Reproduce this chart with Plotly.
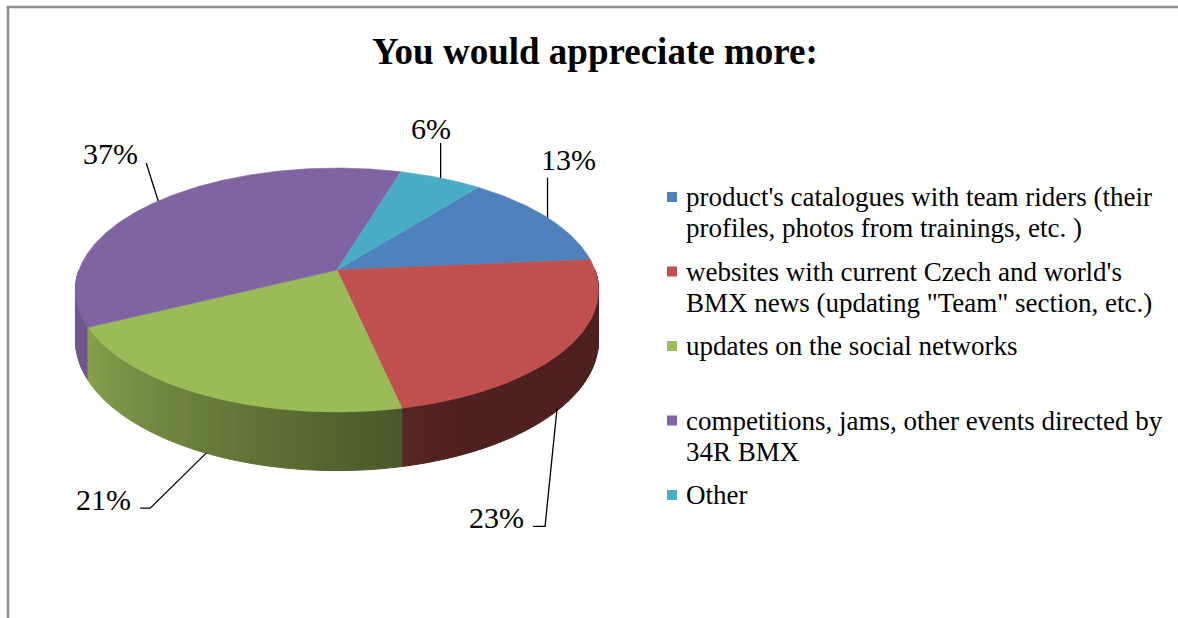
import numpy as np
import plotly.graph_objects as go

# ---- data -------------------------------------------------------------
title = "You would appreciate more:"
categories = [
    ["product's catalogues with team riders (their", "profiles, photos from trainings, etc. )"],
    ["websites with current Czech and world's", "BMX news (updating \"Team\" section, etc.)"],
    ["updates on the social networks"],
    ["competitions, jams, other events directed by", "34R BMX"],
    ["Other"],
]
shares = [13, 23, 21, 37, 6]
colors = ["#4F81BD", "#C0504D", "#9BBB59", "#8064A2", "#4BACC6"]

# ---- canvas / pie geometry (pixel space) ------------------------------
W, H = 1178, 618
CX, CY = 337, 270          # pie centre on the top face
RX, RY = 258, 118.7        # projected radii
PERSP = 0.164              # perspective strength
DEPTH = 49                 # thickness of the pie
START = 38.2               # first slice starts here (deg, clockwise from 12 o'clock)
FONT = "Liberation Serif, Times New Roman, serif"


def proj(theta_deg, h=0.0):
    t = np.radians(theta_deg)
    w = 1 + PERSP * np.cos(t)
    return CX + RX * np.sin(t) / w, CY + (-RY * np.cos(t) + DEPTH * h) / w


def shade(hex_color, f):
    h = hex_color.lstrip("#")
    r, g, b = (int(h[i:i + 2], 16) for i in (0, 2, 4))
    return "rgb(%d,%d,%d)" % (r * f, g * f, b * f)


def side_factor(theta):
    return float(np.clip(0.47 + 0.40 * (theta - 168) / 75, 0.41, 0.87))


total = float(sum(shares))
bounds = START + np.concatenate([[0], np.cumsum(shares)]) / total * 360


def slice_of(theta):
    t = (theta - START) % 360 + START
    for i in range(len(shares)):
        if bounds[i] <= t < bounds[i + 1]:
            return i
    return len(shares) - 1


fig = go.Figure()

# ---- outer wall: thin strips, drawn back to front ---------------------
edges = set(np.round(np.arange(90, 270.01, 1.5), 4))
for b in bounds:
    bb = b % 360
    if 90 < bb < 270:
        edges.add(round(bb, 4))
edges = sorted(edges)
strips = []
for a0, a1 in zip(edges[:-1], edges[1:]):
    mid = 0.5 * (a0 + a1)
    strips.append((np.cos(np.radians(mid)), a0, a1, mid))
strips.sort(key=lambda s: -s[0])
for _, a0, a1, mid in strips:
    idx = slice_of(mid)
    ang = np.linspace(a0, a1, 4)
    xt, yt = proj(ang, 0)
    xb, yb = proj(ang[::-1], 1)
    col = shade(colors[idx], side_factor(mid))
    fig.add_trace(go.Scatter(
        x=np.concatenate([xt, xb, xt[:1]]), y=np.concatenate([yt, yb, yt[:1]]),
        mode="lines", fill="toself", fillcolor=col,
        line=dict(color=col, width=1), hoverinfo="skip", showlegend=False))

# ---- top face slices --------------------------------------------------
for i in range(len(shares)):
    ang = np.linspace(bounds[i], bounds[i + 1], max(int((bounds[i + 1] - bounds[i]) * 2), 4))
    xs, ys = proj(ang, 0)
    fig.add_trace(go.Scatter(
        x=np.concatenate([[CX], xs, [CX]]), y=np.concatenate([[CY], ys, [CY]]),
        mode="lines", fill="toself", fillcolor=colors[i],
        line=dict(color=colors[i], width=0.6), hoverinfo="skip", showlegend=False))

# ---- data labels with leader lines ------------------------------------
# leader polyline offsets from the slice anchor, then label offset from its end
leaders = [
    ([(0, 0), (0, -40)], (21, -18), "center"),
    ([(-10, 6), (-22, 124), (-34, 124)], (-7, -9), "right"),
    ([(0, 0), (-56, 55), (-66, 55)], (-7, -9), "right"),
    ([(0, 0), (-12, -38)], (-6, -9), "right"),
    ([(0, 0), (0, -35)], (-10, -15), "center"),
]
annotations = []
for i, v in enumerate(shares):
    mid = 0.5 * (bounds[i] + bounds[i + 1])
    front = np.cos(np.radians(mid)) < 0
    ax, ay = proj(mid, 1 if front else 0)
    pts, (lx, ly), anchor = leaders[i]
    xs = [ax + p[0] for p in pts]
    ys = [ay + p[1] for p in pts]
    fig.add_trace(go.Scatter(x=xs, y=ys, mode="lines", line=dict(color="black", width=1.3),
                             hoverinfo="skip", showlegend=False))
    annotations.append(dict(x=xs[-1] + lx, y=ys[-1] + ly, text="%d%%" % v, showarrow=False,
                            xanchor=anchor, yanchor="middle",
                            font=dict(family=FONT, size=30, color="black")))

# ---- legend -----------------------------------------------------------
LEG_X, LEG_Y0, LEG_STEP, LINE_H = 672, 197, 74.5, 31
for i, lines in enumerate(categories):
    yy = LEG_Y0 + i * LEG_STEP
    fig.add_trace(go.Scatter(x=[LEG_X], y=[yy], mode="markers",
                             marker=dict(symbol="square", size=10, color=colors[i]),
                             hoverinfo="skip", showlegend=False))
    for k, line in enumerate(lines):
        annotations.append(dict(x=LEG_X + 12, y=yy + k * LINE_H, text=line, showarrow=False,
                                xanchor="left", yanchor="middle", align="left",
                                font=dict(family=FONT, size=27, color="black")))

annotations.append(dict(x=595, y=51, text="<b>%s</b>" % title, showarrow=False,
                        xanchor="center", yanchor="middle",
                        font=dict(family=FONT, size=37, color="black")))

fig.update_layout(
    width=W, height=H, margin=dict(l=0, r=0, t=0, b=0),
    paper_bgcolor="white", plot_bgcolor="white",
    xaxis=dict(range=[0, W], visible=False, fixedrange=True),
    yaxis=dict(range=[H, 0], visible=False, fixedrange=True),
    annotations=annotations,
    shapes=[dict(type="rect", xref="x", yref="y", x0=8, y0=7, x1=W + 20, y1=H + 20,
                 line=dict(color="#8c8c8c", width=2.5), layer="above")],
)

fig.write_html("out.html")
